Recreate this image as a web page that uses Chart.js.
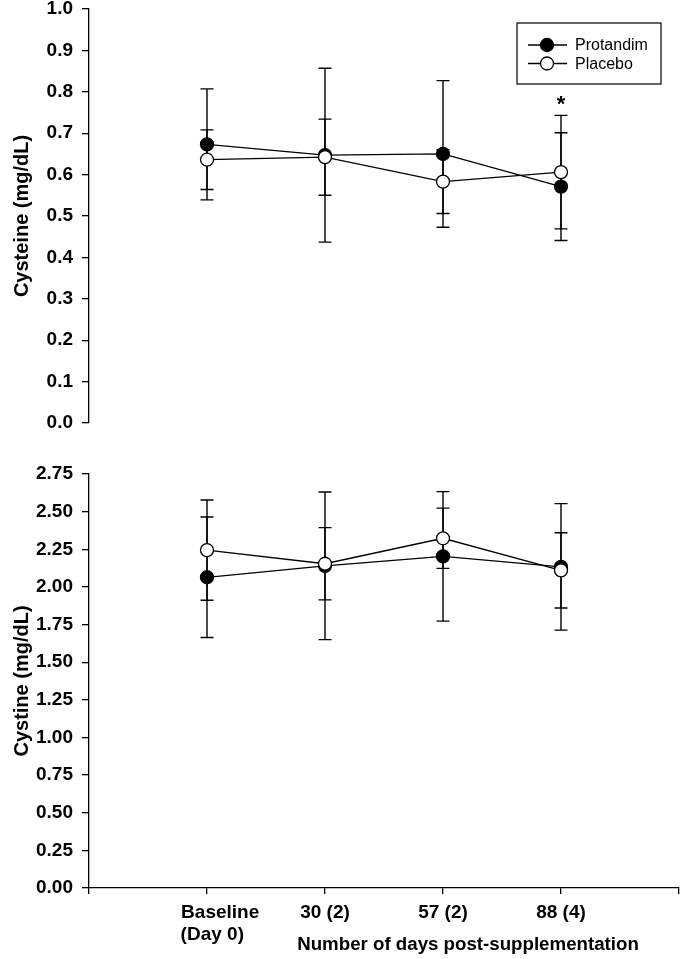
<!DOCTYPE html>
<html>
<head>
<meta charset="utf-8">
<script src="https://cdn.jsdelivr.net/npm/chart.js@4.4.1/dist/chart.umd.min.js"></script>
<style>
  html, body { margin: 0; padding: 0; background: #fff; }
  body { width: 682px; height: 959px; position: relative; overflow: hidden; }
  canvas { position: absolute; left: 0; }
  #cys-top { top: 0; }
  #cys-bottom { top: 440px; }
</style>
</head>
<body>
<canvas id="cys-top" width="682" height="440"></canvas>
<canvas id="cys-bottom" width="682" height="519"></canvas>
<script>
// dados
const xPos = [1, 2, 3, 4];
const dayLabels = [['Baseline', '(Day 0)'], '30 (2)', '57 (2)', '88 (4)'];
const seriesNames = ['Protandim', 'Placebo'];

// Cysteine (mg/dL)
const cysteineProtandim = [0.673, 0.647, 0.650, 0.571];
const cysteineProtandimErr = [0.134, 0.210, 0.177, 0.130];
const cysteinePlacebo = [0.636, 0.642, 0.583, 0.606];
const cysteinePlaceboErr = [0.072, 0.092, 0.077, 0.137];
const cysteineTicks = { max: 1.0, step: 0.1, digits: 1 };
const starAt = [3]; // índice com asterisco (88 dias)

// Cystine (mg/dL)
const cystineProtandim = [2.064, 2.140, 2.203, 2.133];
const cystineProtandimErr = [0.400, 0.490, 0.430, 0.420];
const cystinePlacebo = [2.244, 2.154, 2.323, 2.110];
const cystinePlaceboErr = [0.333, 0.240, 0.200, 0.250];
const cystineTicks = { max: 2.75, step: 0.25, digits: 2 };

const FONT = "Arial, 'Liberation Sans', sans-serif";
Chart.defaults.font.family = FONT;
Chart.defaults.color = '#000';

function noPad(s) {
  s.paddingTop = 0; s.paddingBottom = 0; s.paddingLeft = 0; s.paddingRight = 0;
}

// rótulo de várias linhas alinhado à esquerda, como no original
function xLabel(v) {
  const i = xPos.indexOf(v);
  if (i < 0) return '';
  const lab = dayLabels[i];
  if (!Array.isArray(lab)) return lab;
  return lab.map((l, k) => (k === 0 ? ' '.repeat(5) : '  ') + l);
}

function makeDatasets(protandim, protandimErr, placebo, placeboErr) {
  const base = {
    borderColor: '#000',
    borderWidth: 1.3,
    pointRadius: 6.5,
    pointHoverRadius: 6.5,
    pointBorderWidth: 1.3,
    pointBorderColor: '#000',
    tension: 0,
  };
  return [
    { ...base, label: seriesNames[0], order: 2, backgroundColor: '#000', pointBackgroundColor: '#000',
      data: xPos.map((x, i) => ({ x, y: protandim[i] })), errors: protandimErr },
    { ...base, label: seriesNames[1], order: 1, backgroundColor: '#fff', pointBackgroundColor: '#fff',
      data: xPos.map((x, i) => ({ x, y: placebo[i] })), errors: placeboErr },
  ];
}

function yAxis(t, title) {
  return {
    min: 0,
    max: t.max,
    ticks: { stepSize: t.step, padding: 9, color: '#000', font: { size: 19, weight: 'bold' },
      callback: (v) => v.toFixed(t.digits) },
    grid: { drawOnChartArea: false, drawTicks: true, tickLength: 7, color: '#000', lineWidth: 1.3 },
    border: { display: true, color: '#000', width: 1.3 },
    title: { display: true, text: title, color: '#000', font: { size: 20, weight: 'bold' }, padding: { top: 10, bottom: 0 } },
    afterFit: (s) => {
      // largura fixa e sem folga extra: a área do gráfico fica só pelo layout.padding
      s.width = 89;
      noPad(s);
    },
  };
}

// barras de erro, desenhadas por baixo dos marcadores
const errorBars = {
  id: 'errorBars',
  beforeDatasetsDraw(chart) {
    const { ctx } = chart;
    const xs = chart.scales.x, ys = chart.scales.y;
    ctx.save();
    ctx.strokeStyle = '#000';
    ctx.lineWidth = 1.4;
    chart.data.datasets.forEach((ds) => {
      ds.data.forEach((p, i) => {
        const e = ds.errors[i];
        const x = xs.getPixelForValue(p.x);
        const yHi = ys.getPixelForValue(p.y + e);
        const yLo = ys.getPixelForValue(p.y - e);
        ctx.beginPath();
        ctx.moveTo(x, yHi); ctx.lineTo(x, yLo);
        ctx.moveTo(x - 6.5, yHi); ctx.lineTo(x + 6.5, yHi);
        ctx.moveTo(x - 6.5, yLo); ctx.lineTo(x + 6.5, yLo);
        ctx.stroke();
      });
    });
    ctx.restore();
  },
};

const boxLegend = {
  id: 'boxLegend',
  afterDraw(chart) {
    const { ctx, chartArea: a } = chart;
    const right = a.right - 18, left = right - 144, top = a.top + 14;
    ctx.save();
    ctx.strokeStyle = '#000';
    ctx.lineWidth = 1.2;
    ctx.strokeRect(left, top, 144, 61);
    chart.data.datasets.forEach((ds, i) => {
      const y = top + 22 + i * 18.5;
      ctx.beginPath();
      ctx.moveTo(left + 11, y); ctx.lineTo(left + 50, y);
      ctx.lineWidth = 1.3;
      ctx.stroke();
      ctx.beginPath();
      ctx.arc(left + 30, y, 6.5, 0, Math.PI * 2);
      ctx.fillStyle = ds.pointBackgroundColor;
      ctx.fill();
      ctx.stroke();
      ctx.fillStyle = '#000';
      ctx.font = '16px ' + FONT;
      ctx.textBaseline = 'middle';
      ctx.textAlign = 'left';
      ctx.fillText(ds.label, left + 58, y + 1);
    });
    ctx.restore();
  },
};

const asterisk = {
  id: 'asterisk',
  afterDraw(chart) {
    const { ctx } = chart;
    const xs = chart.scales.x, ys = chart.scales.y;
    ctx.save();
    ctx.fillStyle = '#000';
    ctx.font = 'bold 22px ' + FONT;
    ctx.textAlign = 'center';
    ctx.textBaseline = 'alphabetic';
    starAt.forEach((i) => {
      let top = -Infinity;
      chart.data.datasets.forEach((ds) => { top = Math.max(top, ds.data[i].y + ds.errors[i]); });
      ctx.fillText('*', xs.getPixelForValue(xPos[i]), ys.getPixelForValue(top) - 4);
    });
    ctx.restore();
  },
};

const xTitle = {
  id: 'xTitle',
  afterDraw(chart) {
    const { ctx, chartArea: a } = chart;
    ctx.save();
    ctx.fillStyle = '#000';
    ctx.font = 'bold 18.7px ' + FONT;
    ctx.textAlign = 'center';
    ctx.textBaseline = 'alphabetic';
    ctx.fillText('Number of days post-supplementation', (a.left + a.right) / 2 + 84, a.bottom + 62);
    ctx.restore();
  },
};

const common = {
  responsive: false,
  animation: false,
  events: [],
  plugins: { legend: { display: false }, tooltip: { enabled: false } },
};

new Chart(document.getElementById('cys-top'), {
  type: 'line',
  data: { datasets: makeDatasets(cysteineProtandim, cysteineProtandimErr, cysteinePlacebo, cysteinePlaceboErr) },
  options: {
    ...common,
    layout: { autoPadding: false, padding: { top: 9, right: 3, bottom: 17, left: 0 } },
    scales: {
      x: { type: 'linear', display: false, min: 0, max: 5, afterFit: noPad },
      y: yAxis(cysteineTicks, 'Cysteine (mg/dL)'),
    },
  },
  plugins: [errorBars, boxLegend, asterisk],
});

new Chart(document.getElementById('cys-bottom'), {
  type: 'line',
  data: { datasets: makeDatasets(cystineProtandim, cystineProtandimErr, cystinePlacebo, cystinePlaceboErr) },
  options: {
    ...common,
    layout: { autoPadding: false, padding: { top: 34, right: 3, bottom: 0, left: 0 } },
    scales: {
      x: {
        type: 'linear',
        min: 0,
        max: 5,
        ticks: {
          stepSize: 1, autoSkip: false, maxRotation: 0, padding: 7, color: '#000',
          font: { size: 19, weight: 'bold' },
          callback: xLabel,
        },
        grid: { drawOnChartArea: false, drawTicks: true, tickLength: 6, color: '#000', lineWidth: 1.3 },
        border: { display: true, color: '#000', width: 1.3 },
        afterFit: (s) => { s.height = 71; noPad(s); },
      },
      y: yAxis(cystineTicks, 'Cystine (mg/dL)'),
    },
  },
  plugins: [errorBars, xTitle],
});
</script>
</body>
</html>
